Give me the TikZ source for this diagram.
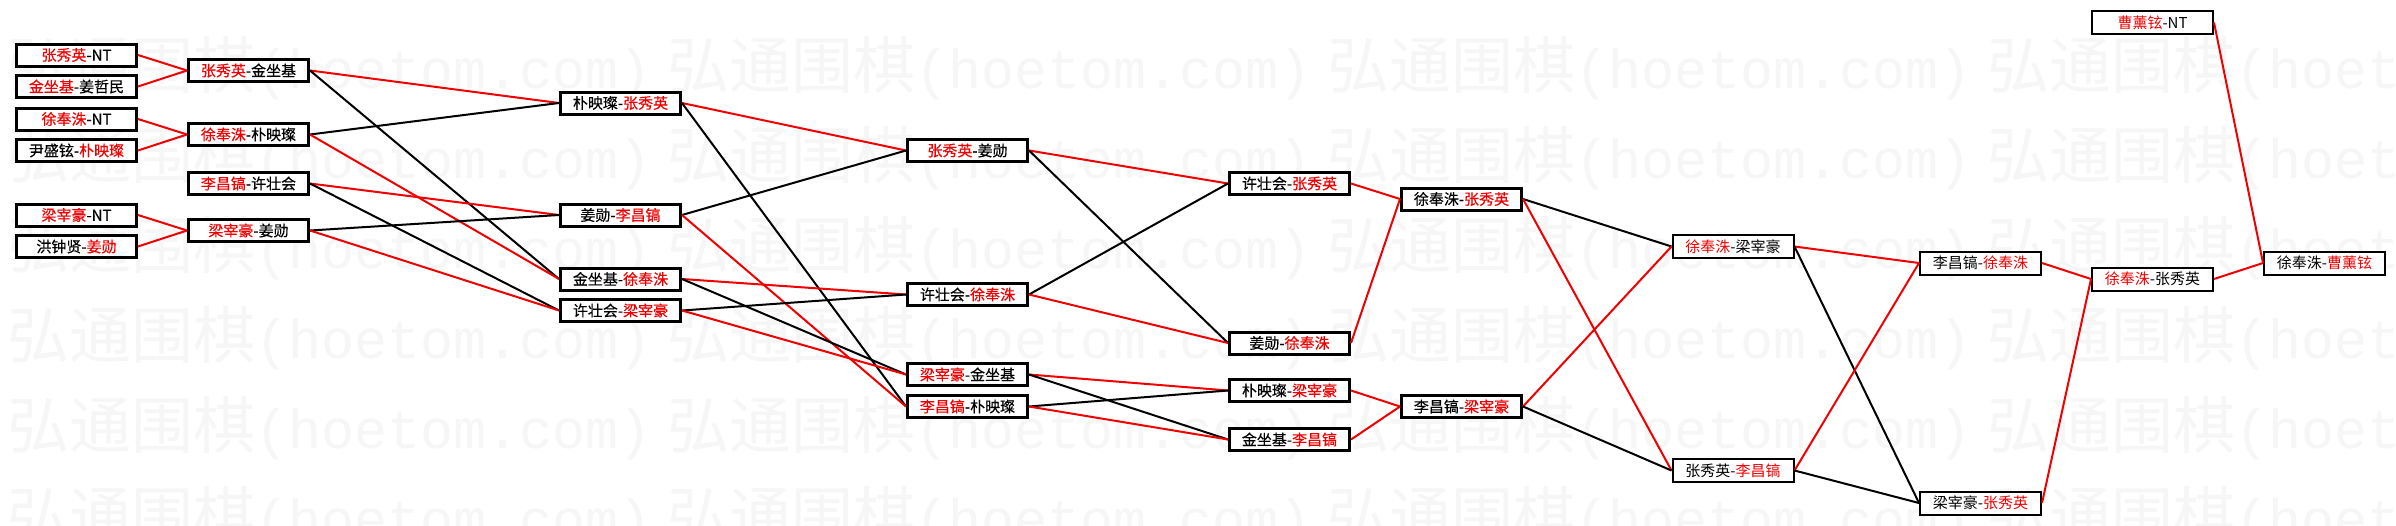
\documentclass[tikz,border=0pt]{standalone}
\usepackage{fontspec}
\setmainfont{Noto Sans CJK SC}
\newfontfamily\heavyfont[FakeBold=0.4]{Noto Sans CJK SC}
\newfontfamily\wmlat{Liberation Mono}
\definecolor{rd}{RGB}{240,0,0}
\definecolor{wmgray}{RGB}{246,246,246}
\newcommand{\R}[1]{\textcolor{rd}{#1}}
\tikzset{
  bx/.style={draw=black, fill=white, line width=3pt, minimum width=120pt, minimum height=22pt,
             inner sep=0pt, font=\heavyfont\fontsize{15}{18}\selectfont},
  bxt/.style={bx, line width=2pt, minimum width=121pt, minimum height=23pt,
             font=\normalfont\fontsize{15}{18}\selectfont},
  win/.style={draw=rd, line width=2pt},
  lose/.style={draw=black, line width=2pt},
  wm/.style={text=wmgray, inner sep=0pt, anchor=base west, font=\fontsize{62}{70}\selectfont}
}
\begin{document}
\begin{tikzpicture}[x=1pt,y=-1pt]
\useasboundingbox (0,0) rectangle (2396,525);
\fill[white] (0,0) rectangle (2396,525);
% watermark
\begin{scope}
\clip (0,0) rectangle (2396,525);
\foreach \r in {0,...,5}{
  \foreach \c in {0,...,3}{
    \node[wm] (wm\r\c) at ({7+660*\c},{88+90*\r}) {弘通围棋{\wmlat\fontsize{55}{60}\selectfont(hoetom.com)}};
  }
}
\end{scope}
% column 1
\node[bx] (a1) at (76.5,55)   {\R{张秀英}-NT};
\node[bx] (a2) at (76.5,86.5) {\R{金坐基}-姜哲民};
\node[bx] (a3) at (76.5,119)  {\R{徐奉洙}-NT};
\node[bx] (a4) at (76.5,150.5){尹盛铉-\R{朴映璨}};
\node[bx] (a5) at (76.5,215)  {\R{梁宰豪}-NT};
\node[bx] (a6) at (76.5,246.5){洪钟贤-\R{姜勋}};
% column 2
\node[bx] (b1) at (248.5,70.5)  {\R{张秀英}-金坐基};
\node[bx] (b2) at (248.5,134.5) {\R{徐奉洙}-朴映璨};
\node[bx] (b3) at (248.5,183.5) {\R{李昌镐}-许壮会};
\node[bx] (b4) at (248.5,230.5) {\R{梁宰豪}-姜勋};
% column 3
\node[bx] (c1) at (620.5,103)   {朴映璨-\R{张秀英}};
\node[bx] (c2) at (620.5,215)   {姜勋-\R{李昌镐}};
\node[bx] (c3) at (620.5,279)   {金坐基-\R{徐奉洙}};
\node[bx] (c4) at (620.5,310.5) {许壮会-\R{梁宰豪}};
% column 4
\node[bx] (d1) at (967.5,150.5) {\R{张秀英}-姜勋};
\node[bx] (d2) at (967.5,294.5) {许壮会-\R{徐奉洙}};
\node[bx] (d3) at (967.5,374.5) {\R{梁宰豪}-金坐基};
\node[bx] (d4) at (967.5,406.5) {\R{李昌镐}-朴映璨};
% column 5
\node[bx] (e1) at (1289.5,183.5) {许壮会-\R{张秀英}};
\node[bx] (e2) at (1289.5,343)   {姜勋-\R{徐奉洙}};
\node[bx] (e3) at (1289.5,390.5) {朴映璨-\R{梁宰豪}};
\node[bx] (e4) at (1289.5,439.5) {金坐基-\R{李昌镐}};
% column 6
\node[bx] (f1) at (1461.5,199)   {徐奉洙-\R{张秀英}};
\node[bx] (f2) at (1461.5,406.5) {李昌镐-\R{梁宰豪}};
% column 7
\node[bxt] (g1) at (1733,246.5) {\R{徐奉洙}-梁宰豪};
\node[bxt] (g2) at (1733,470.5) {张秀英-\R{李昌镐}};
% column 8
\node[bxt] (h1) at (1980.5,263) {李昌镐-\R{徐奉洙}};
\node[bxt] (h2) at (1980.5,503) {梁宰豪-\R{张秀英}};
% column 9
\node[bxt] (i1) at (2152.5,22.5) {\R{曹薰铉}-NT};
\node[bxt] (i2) at (2152.5,279)  {\R{徐奉洙}-张秀英};
% column 10
\node[bxt] (j1) at (2324.5,263) {徐奉洙-\R{曹薰铉}};
% connectors
\draw[win] (a1.east) -- (b1.west);
\draw[win] (a2.east) -- (b1.west);
\draw[win] (a3.east) -- (b2.west);
\draw[win] (a4.east) -- (b2.west);
\draw[win] (a5.east) -- (b4.west);
\draw[win] (a6.east) -- (b4.west);
\draw[win]  (b1.east) -- (c1.west);
\draw[lose] (b1.east) -- (c3.west);
\draw[lose] (b2.east) -- (c1.west);
\draw[win]  (b2.east) -- (c3.west);
\draw[win]  (b3.east) -- (c2.west);
\draw[lose] (b3.east) -- (c4.west);
\draw[lose] (b4.east) -- (c2.west);
\draw[win]  (b4.east) -- (c4.west);
\draw[win]  (c1.east) -- (d1.west);
\draw[lose] (c1.east) -- (d4.west);
\draw[lose] (c2.east) -- (d1.west);
\draw[win]  (c2.east) -- (d4.west);
\draw[win]  (c3.east) -- (d2.west);
\draw[lose] (c3.east) -- (d3.west);
\draw[lose] (c4.east) -- (d2.west);
\draw[win]  (c4.east) -- (d3.west);
\draw[win]  (d1.east) -- (e1.west);
\draw[lose] (d1.east) -- (e2.west);
\draw[lose] (d2.east) -- (e1.west);
\draw[win]  (d2.east) -- (e2.west);
\draw[win]  (d3.east) -- (e3.west);
\draw[lose] (d3.east) -- (e4.west);
\draw[lose] (d4.east) -- (e3.west);
\draw[win]  (d4.east) -- (e4.west);
\draw[win] (e1.east) -- (f1.west);
\draw[win] (e2.east) -- (f1.west);
\draw[win] (e3.east) -- (f2.west);
\draw[win] (e4.east) -- (f2.west);
\draw[lose] (f1.east) -- (g1.west);
\draw[win]  (f1.east) -- (g2.west);
\draw[win]  (f2.east) -- (g1.west);
\draw[lose] (f2.east) -- (g2.west);
\draw[win]  (g1.east) -- (h1.west);
\draw[lose] (g1.east) -- (h2.west);
\draw[win]  (g2.east) -- (h1.west);
\draw[lose] (g2.east) -- (h2.west);
\draw[win] (h1.east) -- (i2.west);
\draw[win] (h2.east) -- (i2.west);
\draw[win] (i2.east) -- (j1.west);
\draw[win] (i1.east) -- (j1.west);
\end{tikzpicture}
\end{document}
